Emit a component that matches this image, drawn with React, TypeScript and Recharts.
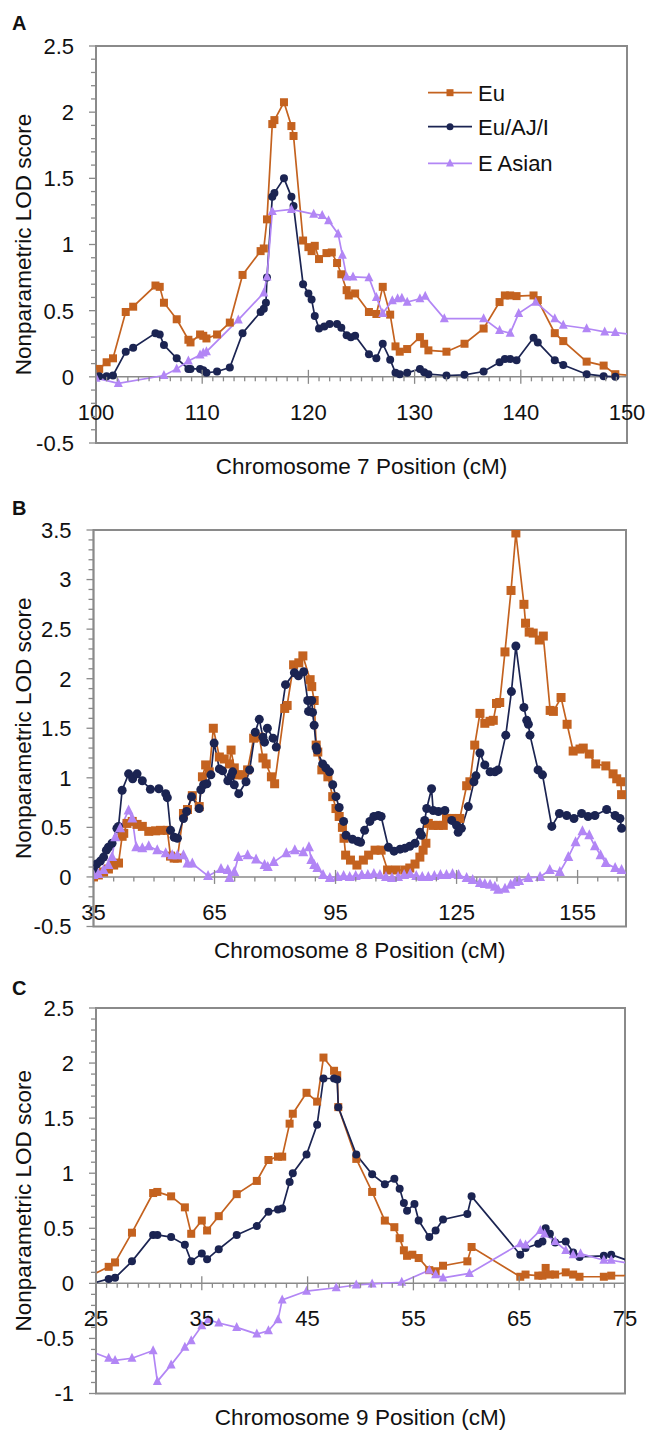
import React from "react";
import { LineChart, Line, XAxis, YAxis, ReferenceArea, ReferenceLine } from "recharts";

const EU_COLOR = "#c4621f";
const AJ_COLOR = "#1b2452";
const EA_COLOR = "#b286f5";
const AXIS = "#8a8a8a";
const INK = "#111";
const FONT = "'Liberation Sans', Arial, sans-serif";

const seriesNames = ["Eu", "Eu/AJ/I", "E Asian"];

// ---- Chromosome 7 ----
const chr7XLabels = [100, 110, 120, 130, 140, 150];
const chr7YLabels = [-0.5, 0, 0.5, 1, 1.5, 2, 2.5];
const chr7EuPos = [100.3, 101.0, 101.6, 102.8, 103.5, 105.6, 106.0, 106.4, 107.6, 108.7, 108.9, 109.8, 110.1, 110.4, 111.4, 112.6, 113.8, 115.5, 115.8, 116.1, 116.6, 116.8, 117.7, 118.4, 118.6, 119.5, 120.0, 120.3, 120.6, 121.0, 121.7, 122.2, 122.7, 123.1, 123.6, 123.8, 124.4, 125.7, 126.4, 127.0, 127.7, 128.2, 128.6, 129.3, 130.5, 130.9, 131.3, 133.0, 134.7, 136.5, 138.0, 138.5, 139.0, 139.6, 141.2, 141.6, 143.2, 144.0, 146.2, 147.8, 148.9, 150.6];
const chr7EuLod = [0.06, 0.11, 0.14, 0.49, 0.53, 0.69, 0.68, 0.56, 0.435, 0.28, 0.26, 0.32, 0.31, 0.29, 0.32, 0.41, 0.77, 0.95, 0.97, 1.19, 1.91, 1.94, 2.075, 1.895, 1.82, 1.03, 0.98, 0.95, 0.99, 0.89, 0.935, 0.94, 0.86, 0.775, 0.655, 0.615, 0.63, 0.49, 0.475, 0.68, 0.47, 0.23, 0.19, 0.21, 0.3, 0.25, 0.2, 0.19, 0.25, 0.365, 0.565, 0.615, 0.615, 0.61, 0.615, 0.58, 0.33, 0.27, 0.115, 0.085, 0.02, 0.01];
const chr7AjPos = [100.3, 101.0, 101.6, 102.8, 103.5, 105.6, 106.0, 106.4, 107.6, 108.7, 108.9, 109.8, 110.1, 110.4, 111.4, 112.6, 113.8, 115.5, 115.8, 116.0, 116.1, 116.6, 116.8, 117.7, 118.4, 118.6, 119.5, 120.0, 120.3, 120.6, 121.0, 121.5, 122.0, 122.7, 123.1, 123.6, 124.0, 124.4, 125.7, 126.4, 127.0, 127.7, 128.2, 128.6, 129.3, 130.5, 130.9, 131.3, 133.0, 134.7, 136.5, 138.0, 138.5, 139.0, 139.6, 141.2, 141.6, 143.2, 144.0, 146.2, 147.8, 148.9];
const chr7AjLod = [0.005, 0.005, 0.01, 0.19, 0.22, 0.33, 0.32, 0.24, 0.14, 0.06, 0.06, 0.06, 0.05, 0.03, 0.04, 0.07, 0.33, 0.49, 0.515, 0.56, 0.75, 1.36, 1.39, 1.5, 1.36, 1.29, 0.7, 0.63, 0.585, 0.46, 0.365, 0.38, 0.4, 0.4, 0.37, 0.315, 0.3, 0.31, 0.17, 0.14, 0.25, 0.13, 0.03, 0.02, 0.03, 0.06, 0.035, 0.02, 0.01, 0.015, 0.04, 0.11, 0.135, 0.135, 0.125, 0.295, 0.26, 0.125, 0.09, 0.02, 0.005, 0.0];
const chr7EaPos = [100, 102.1, 106.4, 107.6, 108.7, 109.8, 110.1, 110.4, 113.4, 115.8, 116.1, 116.6, 118.4, 120.5, 121.3, 121.9, 122.8, 123.2, 123.6, 124.2, 125.7, 126.4, 127.0, 127.9, 128.4, 128.8, 129.3, 130.5, 131.0, 132.8, 136.5, 138.0, 139.0, 139.8, 141.4, 143.2, 144.0, 146.2, 147.9, 148.9, 150.6];
const chr7EaLod = [-0.01, -0.05, 0.01, 0.06, 0.12, 0.165, 0.18, 0.19, 0.43, 0.635, 0.755, 1.25, 1.265, 1.23, 1.22, 1.18, 1.08, 0.92, 0.755, 0.755, 0.75, 0.6, 0.48, 0.575, 0.59, 0.595, 0.565, 0.59, 0.61, 0.44, 0.44, 0.35, 0.33, 0.48, 0.565, 0.44, 0.39, 0.365, 0.34, 0.335, 0.32];

// ---- Chromosome 8 ----
const chr8XLabels = [35, 65, 95, 125, 155];
const chr8YLabels = [-0.5, 0, 0.5, 1, 1.5, 2, 2.5, 3, 3.5];
const chr8EuPos = [35, 36.2, 37.5, 38.7, 40.0, 41.2, 42.1, 42.5, 43.3, 44.6, 45.8, 47.1, 48.7, 50.4, 51.6, 53.3, 54.1, 55.0, 55.8, 57.3, 58.3, 59.5, 61.2, 62.0, 62.8, 63.7, 64.7, 66.2, 67.4, 68.7, 69.1, 69.9, 70.9, 72.0, 73.2, 74.7, 76.1, 77.0, 77.8, 79.1, 79.9, 82.4, 83.0, 84.6, 85.9, 86.9, 88.7, 89.1, 89.7, 90.2, 90.6, 91.6, 93.1, 94.3, 95.1, 95.9, 96.7, 97.1, 97.5, 98.7, 100.3, 101.9, 103.2, 104.8, 106.3, 107.9, 110.0, 112.2, 113.4, 114.7, 115.9, 116.7, 117.4, 118.0, 119.2, 120.5, 121.7, 122.5, 123.8, 125.0, 125.8, 127.5, 128.3, 129.5, 130.8, 132.0, 133.3, 134.1, 134.9, 135.7, 137.0, 138.5, 139.7, 141.7, 142.1, 143.0, 144.0, 145.5, 146.5, 148.2, 149.0, 150.9, 152.4, 153.9, 155.6, 156.4, 157.9, 159.5, 162.0, 163.8, 164.7, 165.7, 165.9];
const chr8EuLod = [0.0, 0.02, 0.05, 0.08, 0.12, 0.14, 0.41, 0.44, 0.54, 0.56, 0.53, 0.51, 0.46, 0.465, 0.47, 0.47, 0.21, 0.19, 0.19, 0.64, 0.68, 0.82, 0.71, 1.01, 1.13, 1.06, 1.5, 1.21, 1.19, 1.14, 1.28, 1.1, 1.03, 1.03, 1.08, 1.4, 1.41, 1.2, 1.14, 1.01, 0.94, 1.7, 1.73, 2.14, 2.16, 2.23, 1.99, 1.92, 1.78, 1.33, 1.26, 1.08, 1.01, 0.81, 0.69, 0.61, 0.5, 0.39, 0.22, 0.17, 0.12, 0.17, 0.22, 0.27, 0.27, 0.07, 0.07, 0.07, 0.09, 0.13, 0.2, 0.27, 0.34, 0.54, 0.52, 0.52, 0.52, 0.59, 0.59, 0.57, 0.59, 0.92, 0.96, 1.33, 1.65, 1.55, 1.57, 1.58, 1.75, 1.76, 2.27, 2.89, 3.47, 2.75, 2.56, 2.47, 2.46, 2.39, 2.43, 1.68, 1.67, 1.81, 1.54, 1.27, 1.29, 1.3, 1.24, 1.14, 1.12, 1.04, 0.99, 0.96, 0.83];
const chr8AjPos = [35, 35.8, 36.7, 37.5, 38.2, 38.7, 39.6, 40.8, 41.2, 42.1, 43.7, 44.7, 45.8, 47.1, 49.1, 51.2, 52.9, 53.3, 54.1, 55.0, 55.8, 57.3, 58.1, 59.3, 61.2, 61.6, 62.3, 63.1, 64.1, 64.9, 66.2, 67.0, 68.3, 69.1, 69.5, 69.9, 71.0, 72.8, 73.7, 75.1, 76.1, 77.0, 77.4, 78.1, 79.5, 80.3, 82.6, 84.8, 85.8, 87.1, 88.1, 88.3, 89.1, 89.3, 89.7, 90.2, 90.4, 91.8, 92.6, 93.5, 94.3, 95.1, 95.9, 97.0, 97.6, 99.2, 100.5, 101.2, 102.2, 103.5, 104.5, 105.6, 106.3, 108.1, 109.5, 111.0, 112.2, 113.4, 114.7, 115.9, 116.3, 117.1, 117.6, 118.8, 119.2, 120.5, 122.1, 123.8, 125.0, 125.4, 126.2, 127.9, 129.3, 129.8, 130.8, 132.0, 133.3, 134.5, 135.3, 137.2, 138.6, 139.7, 141.7, 142.4, 142.8, 143.2, 145.2, 146.3, 148.6, 150.5, 152.3, 154.1, 156.0, 157.6, 159.3, 162.2, 164.3, 165.5, 165.9];
const chr8AjLod = [0.08, 0.13, 0.16, 0.2, 0.27, 0.3, 0.34, 0.49, 0.51, 0.875, 1.04, 0.99, 1.04, 0.97, 0.885, 0.89, 0.84, 0.8, 0.47, 0.4, 0.39, 0.59, 0.66, 0.81, 0.69, 0.88, 0.93, 0.94, 1.03, 1.35, 1.09, 1.07, 0.97, 1.02, 1.06, 0.93, 0.84, 0.96, 1.08, 1.46, 1.59, 1.41, 1.36, 1.5, 1.4, 1.31, 1.94, 2.06, 2.03, 2.07, 1.78, 1.67, 1.78, 1.66, 1.53, 1.31, 1.28, 1.14, 1.1, 1.06, 0.93, 0.81, 0.7, 0.56, 0.42, 0.38, 0.36, 0.35, 0.47, 0.56, 0.61, 0.62, 0.61, 0.3, 0.26, 0.28, 0.29, 0.31, 0.34, 0.45, 0.42, 0.57, 0.69, 0.89, 0.67, 0.66, 0.67, 0.57, 0.52, 0.45, 0.49, 0.71, 0.96, 1.02, 1.25, 1.13, 1.06, 1.06, 1.08, 1.43, 1.87, 2.33, 1.71, 1.58, 1.54, 1.43, 1.08, 1.03, 0.51, 0.64, 0.62, 0.59, 0.64, 0.61, 0.62, 0.68, 0.62, 0.59, 0.49];
const chr8EaPos = [35, 36.2, 37.5, 38.7, 39.6, 40.4, 41.6, 43.7, 44.6, 45.6, 47.1, 48.7, 50.8, 52.9, 54.5, 55.8, 57.3, 58.3, 59.5, 63.4, 66.6, 68.3, 68.7, 69.9, 70.9, 73.2, 75.3, 77.4, 78.2, 79.7, 82.8, 84.9, 87.0, 88.4, 89.0, 89.7, 90.5, 91.9, 93.6, 95.5, 97.0, 98.5, 100.0, 101.5, 103.0, 104.5, 106.0, 107.5, 109.0, 110.5, 112.0, 113.5, 115.0, 116.5, 118.0, 119.5, 121.0, 122.5, 124.0, 125.5, 127.5, 129.0, 130.8, 132.0, 133.3, 134.5, 135.3, 137.0, 138.4, 139.5, 140.5, 142.8, 145.7, 148.1, 150.6, 152.7, 154.5, 156.2, 157.9, 159.3, 160.7, 162.0, 164.3, 165.9];
const chr8EaLod = [0.02, 0.03, 0.07, 0.12, 0.2, 0.4, 0.49, 0.67, 0.59, 0.3, 0.29, 0.31, 0.27, 0.24, 0.22, 0.22, 0.22, 0.135, 0.135, 0.01, 0.08, 0.07, -0.01, 0.05, 0.2, 0.22, 0.175, 0.12, 0.1, 0.15, 0.24, 0.27, 0.25, 0.3, 0.17, 0.12, 0.09, 0.02, -0.01, 0.0, 0.01, 0.0, 0.01, 0.02, 0.02, 0.03, 0.02, 0.0, -0.01, 0.0, 0.02, 0.03, 0.01, 0.0, 0.0, 0.01, 0.02, 0.02, 0.03, 0.02, -0.01, -0.03, -0.06, -0.07, -0.08, -0.1, -0.13, -0.12, -0.08, -0.05, -0.04, -0.01, 0.0, 0.07, 0.05, 0.2, 0.35, 0.46, 0.42, 0.31, 0.22, 0.14, 0.09, 0.07];

// ---- Chromosome 9 ----
const chr9XLabels = [25, 35, 45, 55, 65, 75];
const chr9YLabels = [-1, -0.5, 0, 0.5, 1, 1.5, 2, 2.5];
const chr9EuPos = [24.5, 26.2, 26.8, 28.4, 30.4, 30.8, 32.1, 33.4, 34.0, 35.0, 35.5, 36.6, 38.3, 40.2, 41.3, 42.2, 42.6, 43.3, 43.6, 44.9, 45.9, 46.5, 47.5, 47.8, 47.9, 49.6, 51.1, 52.3, 53.2, 53.7, 54.1, 54.4, 54.9, 55.5, 56.5, 57.1, 57.8, 60.1, 60.5, 65.1, 65.6, 66.8, 67.2, 67.5, 67.9, 68.4, 69.4, 70.1, 70.7, 73.0, 73.7, 75.5];
const chr9EuLod = [0.07, 0.15, 0.19, 0.46, 0.82, 0.83, 0.79, 0.69, 0.45, 0.57, 0.48, 0.61, 0.81, 0.93, 1.12, 1.15, 1.15, 1.45, 1.54, 1.73, 1.65, 2.05, 1.93, 1.89, 1.6, 1.13, 0.83, 0.57, 0.51, 0.41, 0.3, 0.25, 0.26, 0.23, 0.12, 0.11, 0.16, 0.2, 0.33, 0.06, 0.08, 0.07, 0.07, 0.14, 0.08, 0.08, 0.1, 0.08, 0.06, 0.06, 0.07, 0.07];
const chr9AjPos = [24.6, 26.2, 26.8, 28.4, 30.4, 30.8, 32.1, 33.4, 34.0, 35.0, 35.5, 36.6, 38.3, 40.2, 41.3, 42.2, 42.6, 43.3, 43.6, 44.9, 45.9, 46.5, 47.5, 47.8, 47.9, 49.6, 51.1, 52.3, 53.2, 53.7, 54.1, 54.4, 55.1, 55.5, 56.5, 57.1, 57.8, 60.1, 60.5, 65.1, 65.6, 66.8, 67.2, 67.5, 67.9, 68.4, 69.4, 70.1, 70.7, 73.0, 73.7, 75.5];
const chr9AjLod = [0.0, 0.04, 0.05, 0.2, 0.44, 0.44, 0.42, 0.35, 0.2, 0.27, 0.22, 0.31, 0.44, 0.52, 0.65, 0.67, 0.68, 0.92, 1.0, 1.17, 1.44, 1.86, 1.86, 1.85, 1.6, 1.17, 0.99, 0.9, 0.95, 0.86, 0.73, 0.66, 0.72, 0.57, 0.42, 0.48, 0.58, 0.63, 0.79, 0.26, 0.32, 0.36, 0.38, 0.5, 0.45, 0.37, 0.38, 0.28, 0.24, 0.25, 0.26, 0.2];
const chr9EaPos = [24.6, 26.2, 26.8, 28.4, 30.4, 30.8, 32.1, 33.4, 34.0, 35.0, 35.6, 36.6, 38.3, 40.2, 41.3, 42.2, 42.6, 44.9, 47.7, 49.6, 51.1, 53.9, 56.5, 57.1, 57.8, 60.3, 65.1, 65.6, 67.0, 67.4, 68.4, 69.4, 70.1, 70.8, 73.0, 73.7, 75.5];
const chr9EaLod = [-0.62, -0.68, -0.7, -0.68, -0.61, -0.89, -0.74, -0.58, -0.52, -0.385, -0.33, -0.36, -0.4, -0.46, -0.43, -0.33, -0.15, -0.07, -0.04, -0.015, -0.005, 0.01, 0.12, 0.08, 0.05, 0.09, 0.36, 0.35, 0.48, 0.45, 0.38, 0.3, 0.26, 0.27, 0.21, 0.21, 0.18];

const zip = (pos: number[], lod: number[]) => pos.map((x, i) => ({ x, lod: lod[i] }));

const steps = (from: number, to: number, step: number) =>
  Array.from({ length: Math.round((to - from) / step) + 1 }, (_, i) => +(from + i * step).toFixed(3));

const isIn = (list: number[], v: number) => list.some((m) => Math.abs(m - v) < 1e-6);

function Marker({ kind, cx, cy, s, color }: { kind: string; cx: number; cy: number; s: number; color: string }) {
  if (kind === "square") return <rect x={cx - s / 2} y={cy - s / 2} width={s} height={s} fill={color} />;
  if (kind === "circle") return <circle cx={cx} cy={cy} r={s / 2} fill={color} />;
  return (
    <polygon
      points={`${cx},${cy - s * 0.6} ${cx - s / 2},${cy + s * 0.4} ${cx + s / 2},${cy + s * 0.4}`}
      fill={color}
    />
  );
}

const kinds = ["square", "circle", "triangle"];
const colors = [EU_COLOR, AJ_COLOR, EA_COLOR];

type PanelProps = {
  top: number;
  height: number;
  plot: { left: number; right: number; top: number; bottom: number };
  xDomain: [number, number];
  yDomain: [number, number];
  xLabels: number[];
  xMinorStep: number;
  yLabels: number[];
  series: { x: number; lod: number }[][];
  size: number;
};

function Panel({ top, height, plot, xDomain, yDomain, xLabels, xMinorStep, yLabels, series, size }: PanelProps) {
  const yW = 60;
  const xH = 30;
  const plotH = plot.bottom - plot.top;
  const zeroOffset = (plotH * (0 - yDomain[0])) / (yDomain[1] - yDomain[0]);
  const xTicks = steps(xDomain[0], Math.floor(xDomain[1]), xMinorStep);
  const yTicks = steps(yDomain[0], yDomain[1], 0.1);

  const XTick = (p: any) => {
    const v = p.payload.value;
    const major = isIn(xLabels, v);
    const yz = p.y - zeroOffset;
    return (
      <g>
        <line x1={p.x} x2={p.x} y1={major ? yz - 7 : yz} y2={major ? yz + 7 : yz + 4.5} stroke={AXIS} strokeWidth={1.3} />
        {major && (
          <text x={p.x} y={yz + 43} textAnchor="middle" fontSize={22} fill={INK} fontFamily={FONT}>
            {v}
          </text>
        )}
      </g>
    );
  };

  const YTick = (p: any) => {
    const v = p.payload.value;
    const major = isIn(yLabels, v);
    return (
      <g>
        <line x1={p.x - (major ? 7 : 5)} x2={p.x} y1={p.y} y2={p.y} stroke={AXIS} strokeWidth={1.3} />
        {major && (
          <text x={p.x - 22} y={p.y} dy="0.36em" textAnchor="end" fontSize={22} fill={INK} fontFamily={FONT}>
            {String(v)}
          </text>
        )}
      </g>
    );
  };

  return (
    <div style={{ position: "absolute", left: 0, top, width: 647, height }}>
      <LineChart
        width={647}
        height={height}
        margin={{
          top: plot.top - top,
          left: plot.left - yW,
          right: 647 - plot.right,
          bottom: top + height - plot.bottom - xH,
        }}
      >
        <XAxis
          dataKey="x"
          type="number"
          domain={xDomain}
          allowDataOverflow
          ticks={xTicks}
          interval={0}
          height={xH}
          axisLine={false}
          tickLine={false}
          tickSize={0}
          tickMargin={0}
          tick={XTick}
        />
        <YAxis
          type="number"
          domain={yDomain}
          allowDataOverflow
          ticks={yTicks}
          interval={0}
          width={yW}
          axisLine={{ stroke: AXIS, strokeWidth: 1.5 }}
          tickLine={false}
          tickSize={0}
          tickMargin={0}
          tick={YTick}
        />
        <ReferenceArea
          x1={xDomain[0]}
          x2={xDomain[1]}
          y1={yDomain[0]}
          y2={yDomain[1]}
          fill="none"
          fillOpacity={0}
          stroke={AXIS}
          strokeWidth={2}
        />
        <ReferenceLine y={0} stroke={AXIS} strokeWidth={1.5} />
        {series.map((data, i) => (
          <Line
            key={seriesNames[i]}
            data={data}
            dataKey="lod"
            type="linear"
            stroke={colors[i]}
            strokeWidth={1.7}
            isAnimationActive={false}
            dot={(d: any) => (
              <Marker
                key={`${i}-${d.index}`}
                kind={kinds[i]}
                cx={d.cx}
                cy={d.cy}
                s={kinds[i] === "triangle" ? size + 1 : size}
                color={colors[i]}
              />
            )}
            activeDot={false}
          />
        ))}
      </LineChart>
    </div>
  );
}

const panels: (PanelProps & { letter: string; title: string })[] = [
  {
    letter: "A",
    title: "Chromosome 7 Position (cM)",
    top: 0,
    height: 480,
    plot: { left: 96, right: 627, top: 46, bottom: 443 },
    xDomain: [100, 150],
    yDomain: [-0.5, 2.5],
    xLabels: chr7XLabels,
    xMinorStep: 1,
    yLabels: chr7YLabels,
    series: [zip(chr7EuPos, chr7EuLod), zip(chr7AjPos, chr7AjLod), zip(chr7EaPos, chr7EaLod)],
    size: 8,
  },
  {
    letter: "B",
    title: "Chromosome 8 Position (cM)",
    top: 480,
    height: 480,
    plot: { left: 93.5, right: 626, top: 530, bottom: 926.5 },
    xDomain: [35, 167],
    yDomain: [-0.5, 3.5],
    xLabels: chr8XLabels,
    xMinorStep: 5,
    yLabels: chr8YLabels,
    series: [zip(chr8EuPos, chr8EuLod), zip(chr8AjPos, chr8AjLod), zip(chr8EaPos, chr8EaLod)],
    size: 9,
  },
  {
    letter: "C",
    title: "Chromosome 9 Position (cM)",
    top: 960,
    height: 482,
    plot: { left: 96, right: 625, top: 1008, bottom: 1393.5 },
    xDomain: [25, 75],
    yDomain: [-1, 2.5],
    xLabels: chr9XLabels,
    xMinorStep: 1,
    yLabels: chr9YLabels,
    series: [zip(chr9EuPos, chr9EuLod), zip(chr9AjPos, chr9AjLod), zip(chr9EaPos, chr9EaLod)],
    size: 8,
  },
];

const letterBaselines = [30, 515, 995];
const legendRows = [92.7, 126.7, 163.3];

export default function App() {
  return (
    <div style={{ position: "absolute", left: 0, top: 0, width: 647, height: 1442, background: "#fff" }}>
      {panels.map((p) => (
        <Panel key={p.letter} {...p} />
      ))}
      <svg
        width={647}
        height={1442}
        style={{ position: "absolute", left: 0, top: 0, pointerEvents: "none" }}
        fontFamily={FONT}
        fill={INK}
      >
        {panels.map((p, i) => {
          const cx = (p.plot.left + p.plot.right) / 2;
          const cy = (p.plot.top + p.plot.bottom) / 2;
          return (
            <g key={p.letter}>
              <text x={12} y={letterBaselines[i]} fontSize={20} fontWeight="bold">
                {p.letter}
              </text>
              <text transform={`translate(23, ${cy}) rotate(-90)`} dy="0.36em" textAnchor="middle" fontSize={22.5}>
                Nonparametric LOD score
              </text>
              <text x={cx} y={p.plot.bottom + 31} textAnchor="middle" fontSize={22.5}>
                {p.title}
              </text>
            </g>
          );
        })}
        {seriesNames.map((name, i) => (
          <g key={name}>
            <line x1={428} x2={472} y1={legendRows[i]} y2={legendRows[i]} stroke={colors[i]} strokeWidth={1.7} />
            <Marker kind={kinds[i]} cx={450} cy={legendRows[i]} s={kinds[i] === "triangle" ? 8 : 7} color={colors[i]} />
            <text x={478} y={legendRows[i]} dy="0.36em" fontSize={22}>
              {name}
            </text>
          </g>
        ))}
      </svg>
    </div>
  );
}
